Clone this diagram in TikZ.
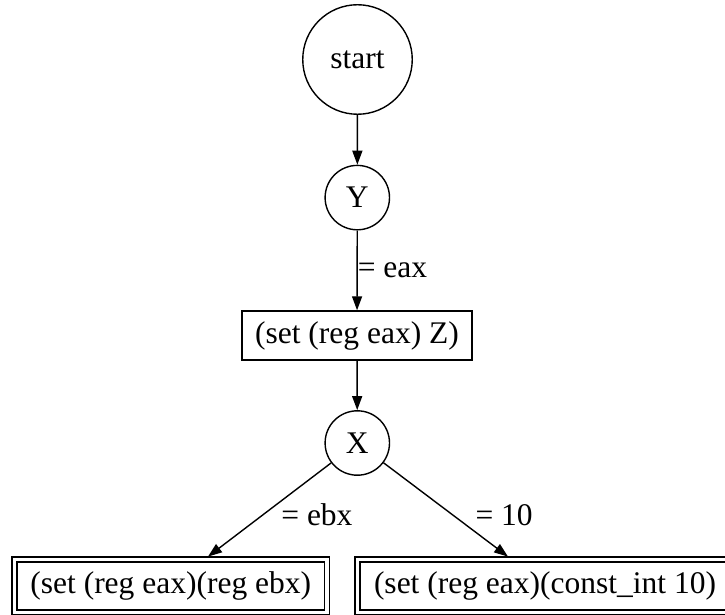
\documentclass[tikz,border=0pt]{standalone}
\usepackage{fontspec}
\setmainfont{Liberation Serif}
\usetikzlibrary{arrows.meta}
\begin{document}
\begin{tikzpicture}[x=1pt,y=-1pt,
  every node/.style={font=\fontsize{31.5}{36}\selectfont},
  state/.style={draw,circle,inner sep=0pt,line width=1.4pt},
  op/.style={draw,rectangle,inner sep=0pt,line width=1.4pt},
  final/.style={draw,rectangle,inner sep=0pt,line width=1.3pt,double,double distance=3.6pt},
  edge/.style={line width=1.4pt,-{Triangle[length=14pt,width=10pt]}},
  lbl/.style={inner sep=0pt}]
\useasboundingbox (0,0) rectangle (725,615);
\clip (0,0) rectangle (725,615);

% nodes
\node[state,minimum size=109.5pt] (start) at (357.5,59.5) {start};
\node[state,minimum size=64.4pt] (Y) at (357.3,197.6) {Y};
\node[op,minimum width=230pt,minimum height=49pt] (Z) at (357,335.5) {(set (reg eax) Z)};
\node[state,minimum size=64.4pt] (X) at (357.3,443) {X};
\node[final,minimum width=312.5pt,minimum height=53pt] (L) at (170.75,586) {(set (reg eax)(reg ebx)};
\node[final,minimum width=375pt,minimum height=53pt] (R) at (545,586) {(set (reg eax)(const\_int 10)};

% arrow end points on the top of the lower boxes
\coordinate (Lt) at (208,556.6);
\coordinate (Rt) at (508,556.6);

% connectors
\draw[edge] (start) -- (Y);
\draw[edge] (Y) -- node[lbl,right] {= eax} (Z);
\draw[edge] (Z) -- (X);
\draw[edge] (X) -- node[lbl,pos=0.556,right=18pt] {= ebx} (Lt);
\draw[edge] (X) -- node[lbl,pos=0.557,right=22pt] {= 10} (Rt);
\end{tikzpicture}
\end{document}
